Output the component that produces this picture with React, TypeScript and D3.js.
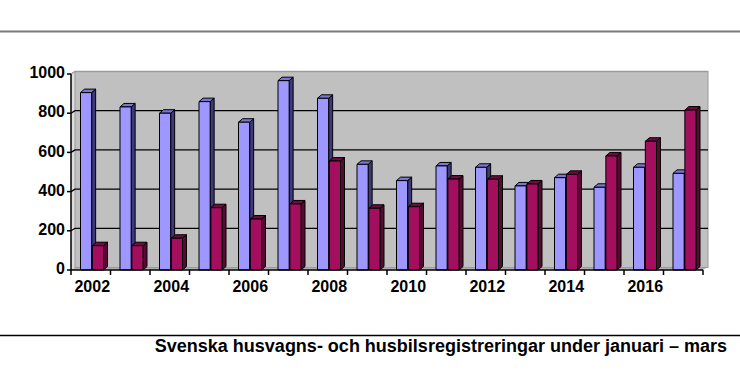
import React from "react";
import * as d3 from "d3";

const years = ["2002","2003","2004","2005","2006","2007","2008","2009","2010","2011","2012","2013","2014","2015","2016","2017"];
const husvagnar = [905, 832, 800, 859, 754, 966, 876, 539, 456, 531, 524, 429, 471, 422, 524, 493];
const husbilar = [124, 124, 162, 318, 260, 337, 556, 315, 323, 464, 463, 439, 488, 582, 657, 816];
const yTicks = [0, 200, 400, 600, 800, 1000];
const xLabels = ["2002","2004","2006","2008","2010","2012","2014","2016"];
const caption = "Svenska husvagns- och husbilsregistreringar under januari – mars";

const W = 740, H = 376;
const DX = 4, DY = -3.5; // bar depth
const WX = 4, WY = -2.5; // wall offset

export default function App() {
  const x = d3.scaleBand<string>().domain(years).range([71, 703]).padding(0);
  const inner = d3.scaleBand<string>().domain(["a", "b"]).range([9.5, 32.5]).paddingInner(0.06);
  const y = d3.scaleLinear().domain([0, 1000]).range([270, 74]);
  const font = "'Liberation Sans', Arial, sans-serif";

  const series = [
    { key: "a", values: husvagnar, front: "#9D97FF", side: "#3C3A78", top: "#7B76D0" },
    { key: "b", values: husbilar, front: "#A30F5E", side: "#560A31", top: "#6E0C40" },
  ];

  const bw = inner.bandwidth();
  const y0 = y(0);

  const bars: React.ReactNode[] = [];
  years.forEach((yr, i) => {
    series.forEach((s) => {
      const bx = (x(yr) as number) + (inner(s.key) as number);
      const by = y(s.values[i]);
      const front = `M${bx},${y0}L${bx},${by}L${bx + bw},${by}L${bx + bw},${y0}Z`;
      const side = `M${bx + bw},${y0}L${bx + bw},${by}L${bx + bw + DX},${by + DY}L${bx + bw + DX},${y0 + DY}Z`;
      const top = `M${bx},${by}L${bx + DX},${by + DY}L${bx + bw + DX},${by + DY}L${bx + bw},${by}Z`;
      bars.push(
        <g key={yr + s.key}>
          <path d={side} fill={s.side} stroke="#000" strokeWidth={1} strokeLinejoin="round" />
          <path d={top} fill={s.top} stroke="#000" strokeWidth={1} strokeLinejoin="round" />
          <path d={front} fill={s.front} stroke="#000" strokeWidth={1} strokeLinejoin="round" />
        </g>
      );
    });
  });

  const left = 71, right = 703;
  const wallTop = y(1000) + WY;
  const wallBottom = y(0) + WY;

  return (
    <svg width={W} height={H} style={{ position: "absolute", left: 0, top: 0, background: "#fff" }} fontFamily={font}>
      <rect x={0} y={0} width={W} height={H} fill="#fff" />
      <line x1={0} x2={W} y1={31.5} y2={31.5} stroke="#7a7a7a" strokeWidth={2} />

      {/* side wall */}
      <path d={`M${left},${y0}L${left},${y(1000)}L${left + WX},${wallTop}L${left + WX},${wallBottom}Z`} fill="#dcdcdc" />
      {/* floor */}
      <path d={`M${left},${y0}L${right},${y0}L${right + WX},${wallBottom}L${left + WX},${wallBottom}Z`} fill="#b0b0b0" />
      {/* back wall */}
      <rect x={left + WX} y={wallTop} width={right - left + 1} height={wallBottom - wallTop} fill="#c0c0c0" stroke="#9a9a9a" strokeWidth={1} />

      {/* gridlines */}
      {yTicks.filter((v) => v > 0).map((v) => (
        <path key={v} d={`M${left},${y(v)}L${left + WX},${y(v) + WY}L${right + WX + 1},${y(v) + WY}`} fill="none" stroke={v === 1000 ? "#9a9a9a" : "#000"} strokeWidth={1.3} />
      ))}

      {bars}

      {/* axes */}
      <line x1={left} x2={left} y1={y(1000)} y2={y0} stroke="#000" strokeWidth={1.5} />
      <line x1={left} x2={right} y1={y0} y2={y0} stroke="#000" strokeWidth={1.5} />
      {yTicks.map((v) => (
        <line key={"yt" + v} x1={left - 4} x2={left} y1={y(v)} y2={y(v)} stroke="#000" strokeWidth={1.5} />
      ))}
      {years.map((yr) => (
        <line key={"xt" + yr} x1={x(yr) as number} x2={x(yr) as number} y1={y0} y2={y0 + 5} stroke="#000" strokeWidth={1.5} />
      ))}
      <line x1={right} x2={right} y1={y0} y2={y0 + 5} stroke="#000" strokeWidth={1.5} />

      {yTicks.map((v) => (
        <text key={"yl" + v} x={65} y={y(v) - 1.5} dy="0.36em" textAnchor="end" fontSize={16} fontWeight="bold" fill="#000">{v}</text>
      ))}
      {xLabels.map((yr) => (
        <text key={"xl" + yr} x={(x(yr) as number) + x.bandwidth() / 2 + 1.5} y={292} textAnchor="middle" fontSize={16} fontWeight="bold" fill="#000">{yr}</text>
      ))}

      <line x1={0} x2={W} y1={335.5} y2={335.5} stroke="#000" strokeWidth={1.3} />
      <text x={727} y={352} textAnchor="end" fontSize={18} fontWeight="bold" fill="#000">{caption}</text>
    </svg>
  );
}
